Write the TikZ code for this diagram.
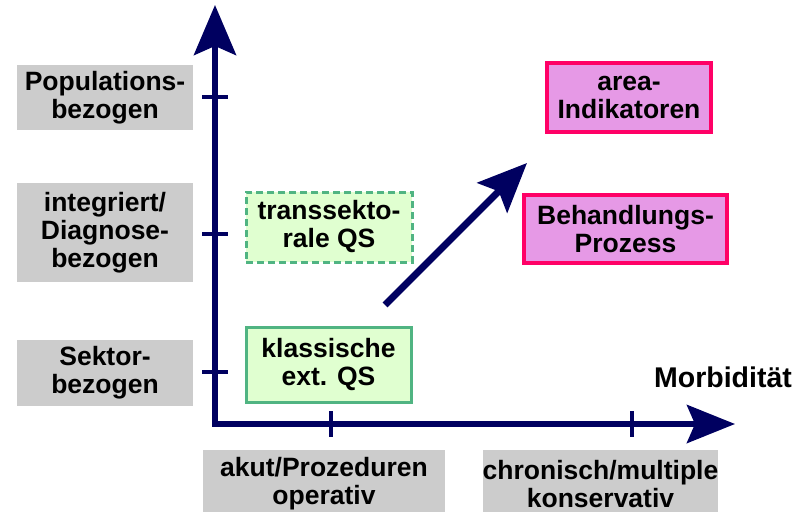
\documentclass[tikz,border=0pt]{standalone}
\usepackage{fontspec}
\setmainfont{Liberation Sans}
\usetikzlibrary{arrows.meta}
\definecolor{navy}{RGB}{0,0,96}
\definecolor{boxgray}{RGB}{204,204,204}
\definecolor{greenfill}{RGB}{224,255,208}
\definecolor{greenline}{RGB}{80,180,130}
\definecolor{pinkfill}{RGB}{230,153,230}
\definecolor{pinkline}{RGB}{255,0,102}
\tikzset{
  lbl/.style={font=\bfseries\fontsize{26.5}{28}\selectfont, align=center, inner sep=0pt, text=black},
  graybox/.style={lbl, fill=boxgray, draw=none},
  greenbox/.style={lbl, fill=greenfill, draw=greenline, line width=3pt},
  pinkbox/.style={lbl, fill=pinkfill, draw=pinkline, line width=3.5pt},
  axis/.style={draw=navy, line width=6pt, line join=miter},
  tick/.style={draw=navy, line width=3.5pt},
  bigarrow/.style={draw=navy, line width=7pt, -{Stealth[length=49pt,width=42pt,inset=9pt]}}
}
\begin{document}
\begin{tikzpicture}[x=1pt,y=-1pt]
\useasboundingbox (0,0) rectangle (805,511);
\clip (0,0) rectangle (805,511);
% left labels
\node[graybox, minimum width=176, minimum height=65] (pop) at (105,97.5) {Populations-\\bezogen};
\node[graybox, minimum width=176, minimum height=99] (integ) at (105,232.5) {integriert/\\Diagnose-\\bezogen};
\node[graybox, minimum width=176, minimum height=66] (sekt) at (105,373) {Sektor-\\bezogen};
% bottom labels
\node[graybox, minimum width=242, minimum height=68] (akut) at (324,484) {akut/Prozeduren\\operativ};
\node[graybox, minimum width=235, minimum height=68] (chron) at (600.5,484) {chronisch/multiple\\konservativ};
% green boxes
\node[greenbox, dashed, dash pattern=on 7pt off 4pt, minimum width=166, minimum height=70] (trans) at (329,227) {transsekto-\\rale QS};
\node[greenbox, minimum width=165, minimum height=75] (klass) at (328.5,364.5) {klassische\\ext. QS};
% pink boxes
\node[pinkbox, minimum width=164, minimum height=69] (area) at (629,97.5) {area-\\Indikatoren};
\node[pinkbox, minimum width=203, minimum height=68] (behand) at (625.5,229) {Behandlungs-\\Prozess};
% axis label
\node[lbl, font=\bfseries\fontsize{28.5}{30}\selectfont] (morb) at (723,377) {Morbidität};
% axes
\coordinate (ytip) at (215,5);
\coordinate (origin) at (215,424);
\coordinate (xtip) at (735,424);
\draw[axis, {Stealth[length=50pt,width=42pt,inset=9pt]}-{Stealth[length=48pt,width=38pt,inset=8pt]}] (ytip) -- (origin) -- (xtip);
% ticks
\draw[tick] (202,97) -- (228,97);
\draw[tick] (202,234) -- (228,234);
\draw[tick] (202,372) -- (228,372);
\draw[tick] (331,411) -- (331,437);
\draw[tick] (632,411) -- (632,437);
% diagonal arrow
\coordinate (dtail) at (385,305);
\coordinate (dtip) at (527,163);
\draw[bigarrow] (dtail) -- (dtip);
\end{tikzpicture}
\end{document}
